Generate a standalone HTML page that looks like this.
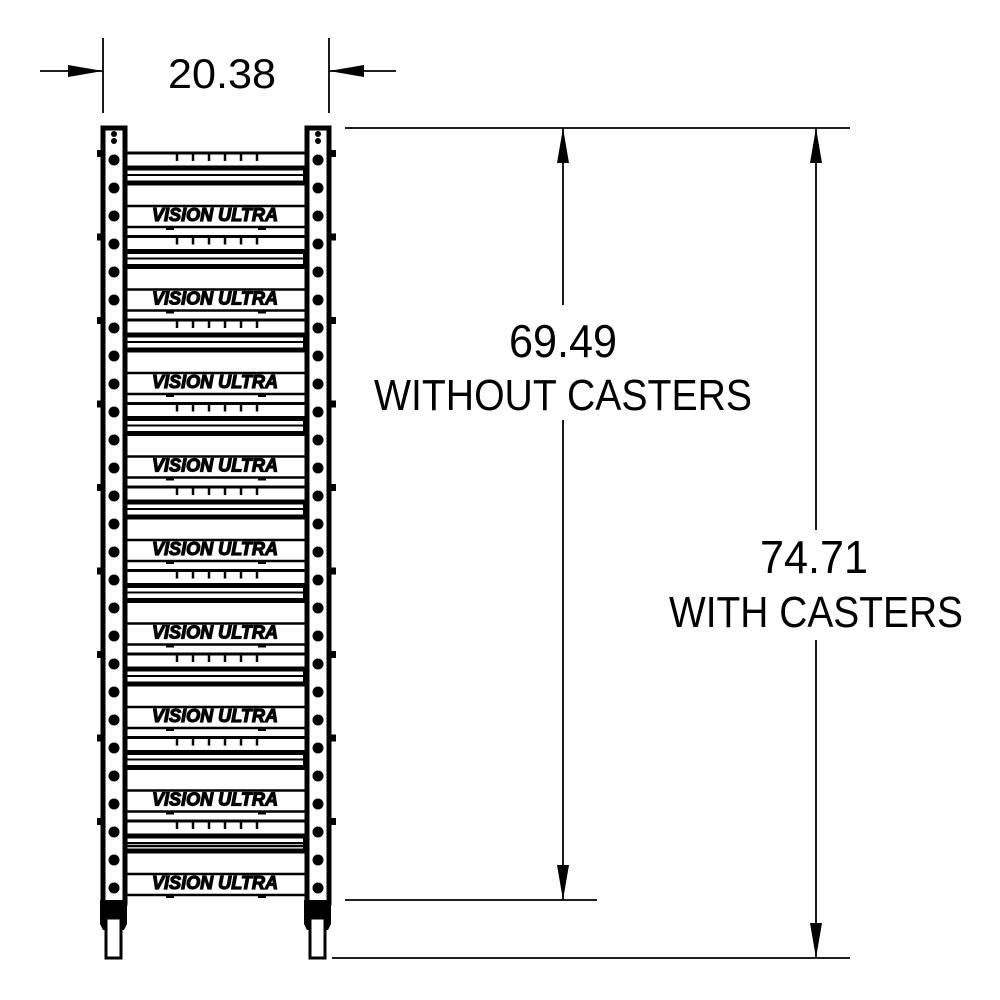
<!DOCTYPE html>
<html><head><meta charset="utf-8"><style>html,body{margin:0;padding:0;background:#fff}svg{display:block}</style></head>
<body>
<svg width="1000" height="1000" viewBox="0 0 1000 1000" xmlns="http://www.w3.org/2000/svg">
<defs>
<g id="shelf">
  <line x1="124" y1="0" x2="308" y2="0" stroke="#000" stroke-width="3"/>
  <g stroke="#000" stroke-width="2.5">
    <line x1="177" y1="0" x2="177" y2="8"/><line x1="193" y1="0" x2="193" y2="8"/>
    <line x1="209" y1="0" x2="209" y2="8"/><line x1="225" y1="0" x2="225" y2="8"/>
    <line x1="241" y1="0" x2="241" y2="8"/><line x1="257" y1="0" x2="257" y2="8"/>
  </g>
  <line x1="124" y1="15" x2="308" y2="15" stroke="#000" stroke-width="5"/>
  <line x1="124" y1="22" x2="308" y2="22" stroke="#000" stroke-width="2"/>
  <line x1="124" y1="30" x2="308" y2="30" stroke="#000" stroke-width="5"/>
  <line x1="304" y1="15" x2="304" y2="30" stroke="#000" stroke-width="2"/>
  <line x1="124" y1="53" x2="308" y2="53" stroke="#000" stroke-width="2.5"/>
  <line x1="124" y1="74" x2="308" y2="74" stroke="#000" stroke-width="2.5"/>
  <rect x="166" y="74" width="8" height="3" fill="#000"/>
  <rect x="258" y="74" width="8" height="3" fill="#000"/>
</g>
<g id="post">
  <rect x="0" y="0" width="22" height="775" fill="#fff" stroke="#000" stroke-width="5"/>
  <circle cx="11" cy="6" r="3" fill="#000"/><circle cx="11" cy="13" r="3" fill="#000"/>
</g>
<g id="caster">
  <path d="M-2 0 H25 V24 L22 30 H1 L-2 24 Z" fill="#000"/>
  <rect x="4" y="18" width="15" height="40" fill="#fff" stroke="#000" stroke-width="3"/>
</g>
</defs>

<use href="#shelf" y="153"/>
<use href="#shelf" y="236.5"/>
<use href="#shelf" y="320"/>
<use href="#shelf" y="403.5"/>
<use href="#shelf" y="487"/>
<use href="#shelf" y="570.5"/>
<use href="#shelf" y="654"/>
<use href="#shelf" y="737.5"/>
<use href="#shelf" y="821"/>

<g font-family="Liberation Sans, sans-serif" font-size="18" font-weight="bold" font-style="italic" fill="#000" stroke="#000" stroke-width="1.2" text-anchor="middle">
<text x="215" y="221" textLength="126" lengthAdjust="spacingAndGlyphs">VISION ULTRA</text>
<text x="215" y="304.5" textLength="126" lengthAdjust="spacingAndGlyphs">VISION ULTRA</text>
<text x="215" y="388" textLength="126" lengthAdjust="spacingAndGlyphs">VISION ULTRA</text>
<text x="215" y="471.5" textLength="126" lengthAdjust="spacingAndGlyphs">VISION ULTRA</text>
<text x="215" y="555" textLength="126" lengthAdjust="spacingAndGlyphs">VISION ULTRA</text>
<text x="215" y="638.5" textLength="126" lengthAdjust="spacingAndGlyphs">VISION ULTRA</text>
<text x="215" y="722" textLength="126" lengthAdjust="spacingAndGlyphs">VISION ULTRA</text>
<text x="215" y="805.5" textLength="126" lengthAdjust="spacingAndGlyphs">VISION ULTRA</text>
<text x="215" y="889" textLength="126" lengthAdjust="spacingAndGlyphs">VISION ULTRA</text>
</g>

<use href="#post" x="103" y="128"/>
<use href="#post" x="307" y="128"/>
<g fill="#000">
<g id="holes">
<circle cx="114" cy="160" r="5.5"/><circle cx="114" cy="188" r="5.5"/><circle cx="114" cy="216" r="5.5"/><circle cx="114" cy="244" r="5.5"/>
<circle cx="114" cy="272" r="5.5"/><circle cx="114" cy="300" r="5.5"/><circle cx="114" cy="328" r="5.5"/><circle cx="114" cy="356" r="5.5"/>
<circle cx="114" cy="384" r="5.5"/><circle cx="114" cy="412" r="5.5"/><circle cx="114" cy="440" r="5.5"/><circle cx="114" cy="468" r="5.5"/>
<circle cx="114" cy="496" r="5.5"/><circle cx="114" cy="524" r="5.5"/><circle cx="114" cy="552" r="5.5"/><circle cx="114" cy="580" r="5.5"/>
<circle cx="114" cy="608" r="5.5"/><circle cx="114" cy="636" r="5.5"/><circle cx="114" cy="664" r="5.5"/><circle cx="114" cy="692" r="5.5"/>
<circle cx="114" cy="720" r="5.5"/><circle cx="114" cy="748" r="5.5"/><circle cx="114" cy="776" r="5.5"/><circle cx="114" cy="804" r="5.5"/>
<circle cx="114" cy="832" r="5.5"/><circle cx="114" cy="860" r="5.5"/><circle cx="114" cy="888" r="5.5"/>
</g>
<use href="#holes" x="204"/>
<g id="nubs">
<rect x="97" y="150" width="5" height="7"/><rect x="97" y="233.5" width="5" height="7"/><rect x="97" y="317" width="5" height="7"/>
<rect x="97" y="400.5" width="5" height="7"/><rect x="97" y="484" width="5" height="7"/><rect x="97" y="567.5" width="5" height="7"/>
<rect x="97" y="651" width="5" height="7"/><rect x="97" y="734.5" width="5" height="7"/><rect x="97" y="818" width="5" height="7"/>
</g>
<use href="#nubs" x="234"/>
</g>
<line x1="124" y1="846" x2="308" y2="846" stroke="#000" stroke-width="2.5"/>

<use href="#caster" x="102" y="900"/>
<use href="#caster" x="306" y="900"/>

<g stroke="#000" stroke-width="1.8" fill="none">
  <line x1="103" y1="38" x2="103" y2="113"/>
  <line x1="329" y1="38" x2="329" y2="113"/>
  <line x1="40" y1="71" x2="103" y2="71"/>
  <line x1="329" y1="71" x2="396" y2="71"/>
  <line x1="345" y1="128" x2="850" y2="128"/>
  <line x1="345" y1="900" x2="597" y2="900"/>
  <line x1="332" y1="958" x2="850" y2="958"/>
  <line x1="563" y1="128" x2="563" y2="305"/>
  <line x1="563" y1="420" x2="563" y2="900"/>
  <line x1="816" y1="128" x2="816" y2="530"/>
  <line x1="816" y1="640" x2="816" y2="958"/>
</g>
<g fill="#000">
  <polygon points="103,71 68,65 68,77"/>
  <polygon points="329,71 364,65 364,77"/>
  <polygon points="563,128 557,163 569,163"/>
  <polygon points="563,900 557,865 569,865"/>
  <polygon points="816,128 810,163 822,163"/>
  <polygon points="816,958 810,923 822,923"/>
</g>
<g font-family="Liberation Sans, sans-serif" fill="#000" text-anchor="middle">
  <text x="222" y="88" font-size="42" textLength="108" lengthAdjust="spacingAndGlyphs">20.38</text>
  <text x="563" y="357" font-size="46" textLength="108" lengthAdjust="spacingAndGlyphs">69.49</text>
  <text x="563" y="410" font-size="44" textLength="378" lengthAdjust="spacingAndGlyphs">WITHOUT CASTERS</text>
  <text x="814" y="573" font-size="46" textLength="108" lengthAdjust="spacingAndGlyphs">74.71</text>
  <text x="816" y="627" font-size="44" textLength="294" lengthAdjust="spacingAndGlyphs">WITH CASTERS</text>
</g>
</svg>
</body></html>
